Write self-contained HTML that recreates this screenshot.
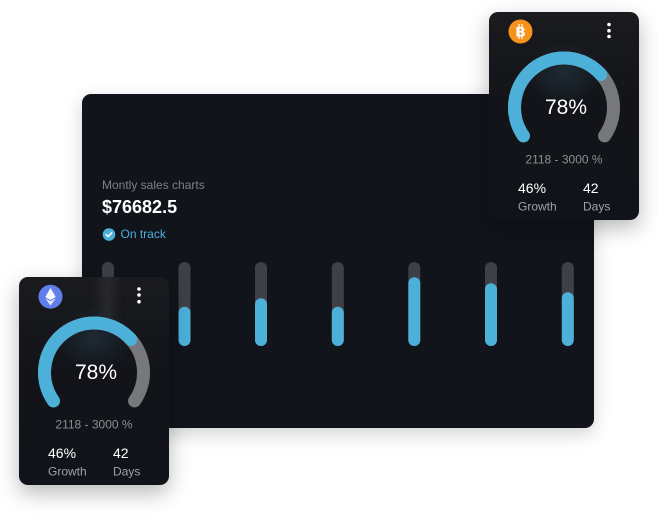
<!DOCTYPE html>
<html><head><meta charset="utf-8">
<style>
html,body{margin:0;padding:0;background:#fff;}
body{width:658px;height:525px;position:relative;overflow:hidden;font-family:"Liberation Sans",sans-serif;}
.main{position:absolute;left:82px;top:94px;width:512px;height:334px;background:#11141b;border-radius:9px;box-shadow:0 6px 18px rgba(0,0,0,0.18);}
.card{position:absolute;width:150px;height:208px;border-radius:9px;overflow:hidden;box-shadow:0 8px 22px rgba(0,0,0,0.28);
background:radial-gradient(ellipse 38px 32px at 75px 62px, rgba(70,130,170,0.18), rgba(70,130,170,0) 100%), linear-gradient(180deg,#1a1b1f 0%,#121419 45%,#101319 100%);}
.card svg{position:absolute;left:0;top:0;}
.t{position:absolute;white-space:nowrap;}
</style></head><body>
<div class="main">
  <div class="t" style="left:20px;top:84px;font-size:12px;color:#7d8087;">Montly sales charts</div>
  <div class="t" style="left:20px;top:103px;font-size:18px;font-weight:bold;color:#fff;">$76682.5</div>
  <svg style="position:absolute;left:20px;top:134px" width="14" height="14"><circle cx="7" cy="6.5" r="6.3" fill="#4cb0d8"/><path d="M4.2 6.6 L6.2 8.5 L9.7 4.8" stroke="#fff" stroke-width="1.5" fill="none" stroke-linecap="round" stroke-linejoin="round"/></svg>
  <div class="t" style="left:38.5px;top:133px;font-size:12px;color:#4cb0d8;">On track</div>
  <svg style="position:absolute;left:0;top:0" width="512" height="334">
    <g stroke-linecap="round" stroke-width="12">
      <line x1="26" y1="174" x2="26" y2="246" stroke="#3f4047"/>
      <line x1="102.5" y1="174" x2="102.5" y2="246" stroke="#3f4047"/>
      <line x1="179" y1="174" x2="179" y2="246" stroke="#3f4047"/>
      <line x1="255.8" y1="174" x2="255.8" y2="246" stroke="#3f4047"/>
      <line x1="332.3" y1="174" x2="332.3" y2="246" stroke="#3f4047"/>
      <line x1="409" y1="174" x2="409" y2="246" stroke="#3f4047"/>
      <line x1="485.8" y1="174" x2="485.8" y2="246" stroke="#3f4047"/>
      <line x1="26" y1="218" x2="26" y2="246" stroke="#4cb0d8"/>
      <line x1="102.5" y1="218.7" x2="102.5" y2="246" stroke="#4cb0d8"/>
      <line x1="179" y1="210.3" x2="179" y2="246" stroke="#4cb0d8"/>
      <line x1="255.8" y1="218.7" x2="255.8" y2="246" stroke="#4cb0d8"/>
      <line x1="332.3" y1="189.3" x2="332.3" y2="246" stroke="#4cb0d8"/>
      <line x1="409" y1="195.3" x2="409" y2="246" stroke="#4cb0d8"/>
      <line x1="485.8" y1="204.3" x2="485.8" y2="246" stroke="#4cb0d8"/>
    </g>
  </svg>
</div>

<!-- right card (BTC) -->
<div class="card" style="left:489px;top:12px;">
  <svg width="150" height="208">
    <circle cx="31.5" cy="19.5" r="12" fill="#f7931a"/>
    <text x="31.5" y="24.5" text-anchor="middle" font-family="Liberation Sans" font-weight="bold" font-size="14" fill="#fff">B</text>
    <line x1="30" y1="12" x2="30" y2="27" stroke="#fff" stroke-width="1.2"/>
    <line x1="33" y1="12" x2="33" y2="27" stroke="#fff" stroke-width="1.2"/>
    <circle cx="120" cy="12.5" r="1.8" fill="#fff"/><circle cx="120" cy="18.7" r="1.8" fill="#fff"/><circle cx="120" cy="24.5" r="1.8" fill="#fff"/>
    <path d="M34.45 123.9 A49.5 49.5 0 1 1 115.55 123.9" stroke="#77787c" stroke-width="13" fill="none" stroke-linecap="round"/>
    <path d="M34.45 123.9 A49.5 49.5 0 0 1 111.8 62.4" stroke="#4cb0d8" stroke-width="13" fill="none" stroke-linecap="round"/>
    <text x="77" y="102" text-anchor="middle" font-family="Liberation Sans" font-size="21" fill="#fff">78%</text>
    <text x="75" y="151.5" text-anchor="middle" font-family="Liberation Sans" font-size="12" fill="#8e8f94">2118 - 3000 %</text>
    <text x="29" y="181" font-family="Liberation Sans" font-size="14" fill="#fff">46%</text>
    <text x="94" y="181" font-family="Liberation Sans" font-size="14" fill="#fff">42</text>
    <text x="29" y="198.5" font-family="Liberation Sans" font-size="12" fill="#a0a1a5">Growth</text>
    <text x="94" y="198.5" font-family="Liberation Sans" font-size="12" fill="#a0a1a5">Days</text>
  </svg>
</div>

<!-- left card (ETH) -->
<div class="card" style="left:19px;top:277px;">
  <div style="position:absolute;left:80px;top:-5px;width:16px;height:50px;background:rgba(90,92,100,0.22);filter:blur(5px);"></div>
  <svg width="150" height="208">
    <circle cx="31.5" cy="19.7" r="12" fill="#627eea"/>
    <path d="M31.5 11 L26.3 20 L31.5 23 L36.7 20 Z" fill="#fff" opacity="0.95"/>
    <path d="M31.5 24.2 L26.3 21.2 L31.5 28.5 L36.7 21.2 Z" fill="#fff" opacity="0.85"/>
    <circle cx="120" cy="12" r="1.8" fill="#fff"/><circle cx="120" cy="18" r="1.8" fill="#fff"/><circle cx="120" cy="24.7" r="1.8" fill="#fff"/>
    <path d="M34.45 123.9 A49.5 49.5 0 1 1 115.55 123.9" stroke="#77787c" stroke-width="13" fill="none" stroke-linecap="round"/>
    <path d="M34.45 123.9 A49.5 49.5 0 0 1 111.8 62.4" stroke="#4cb0d8" stroke-width="13" fill="none" stroke-linecap="round"/>
    <text x="77" y="102" text-anchor="middle" font-family="Liberation Sans" font-size="21" fill="#fff">78%</text>
    <text x="75" y="151.5" text-anchor="middle" font-family="Liberation Sans" font-size="12" fill="#8e8f94">2118 - 3000 %</text>
    <text x="29" y="181" font-family="Liberation Sans" font-size="14" fill="#fff">46%</text>
    <text x="94" y="181" font-family="Liberation Sans" font-size="14" fill="#fff">42</text>
    <text x="29" y="198.5" font-family="Liberation Sans" font-size="12" fill="#a0a1a5">Growth</text>
    <text x="94" y="198.5" font-family="Liberation Sans" font-size="12" fill="#a0a1a5">Days</text>
  </svg>
</div>
</body></html>
